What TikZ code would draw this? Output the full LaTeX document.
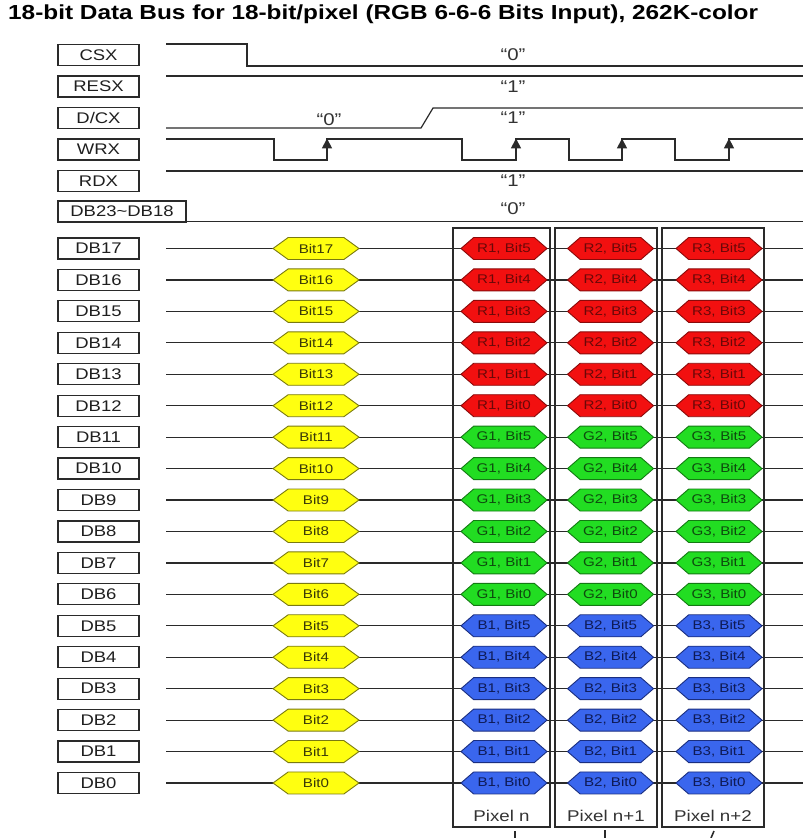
\documentclass[tikz,border=0pt]{standalone}
\usepackage{fontspec}
\usetikzlibrary{shapes.symbols,arrows.meta}
\newfontfamily\af[FakeStretch=1.2]{Liberation Sans}
\newfontfamily\afb[FakeStretch=1.2]{Liberation Sans Bold}
\definecolor{wirec}{HTML}{2A2A2A}
\definecolor{hRf}{HTML}{F21010}\definecolor{hRd}{HTML}{8A0A0A}\definecolor{hRt}{HTML}{6A0808}
\definecolor{hGf}{HTML}{22DD22}\definecolor{hGd}{HTML}{137A13}\definecolor{hGt}{HTML}{0E4A0E}
\definecolor{hBf}{HTML}{3A66EE}\definecolor{hBd}{HTML}{1A2E80}\definecolor{hBt}{HTML}{0E1A55}
\definecolor{hYf}{HTML}{FFFF10}\definecolor{hYd}{HTML}{7A7A10}\definecolor{hYt}{HTML}{3A3A08}
\tikzset{
  wire/.style={draw=wirec,line width=1.2pt},
  lbl/.style={draw=wirec,line width=1.2pt,inner sep=0pt,minimum width=81pt,minimum height=21pt,
    font=\af\fontsize{15.4}{18}\selectfont,text=black!88},
  qlab/.style={inner sep=0pt,font=\af\fontsize{17}{20}\selectfont,text=black!80},
  hexbase/.style={signal,signal to=east and west,inner sep=0pt,minimum width=86pt,minimum height=22pt,
    line width=0.9pt,font=\af\fontsize{12.6}{14}\selectfont},
  hexR/.style={hexbase,signal pointer angle=82,fill=hRf,draw=hRd,text=hRt},
  hexG/.style={hexbase,signal pointer angle=82,fill=hGf,draw=hGd,text=hGt},
  hexB/.style={hexbase,signal pointer angle=82,fill=hBf,draw=hBd,text=hBt},
  hexY/.style={hexbase,signal pointer angle=72,fill=hYf,draw=hYd,text=hYt},
  pixbox/.style={draw=wirec,line width=1.2pt,inner sep=0pt,minimum height=599pt},
  pixlab/.style={inner sep=0pt,font=\af\fontsize{15.6}{18}\selectfont,text=black!80},
  wtip/.style={-{Triangle[width=10pt,length=10pt]}}
}
\begin{document}
\begin{tikzpicture}[x=1pt,y=-1pt]
\useasboundingbox[fill=white] (0,0) rectangle (803,838);
% title
\node[anchor=base west,inner sep=0pt,font=\afb\fontsize{20.3}{24}\selectfont] (title) at (8,19)
  {18-bit Data Bus for 18-bit/pixel (RGB 6-6-6 Bits Input), 262K-color};
% control labels
\node[lbl] (csx) at (98.5,55) {CSX};
\node[lbl] (resx) at (98.5,86.5) {RESX};
\node[lbl] (dcx) at (98.5,118) {D/CX};
\node[lbl] (wrx) at (98.5,149.5) {WRX};
\node[lbl] (rdx) at (98.5,181) {RDX};
\node[lbl,minimum width=128pt] (db2318) at (122,211.5) {DB23\textasciitilde DB18};
% CSX waveform
\draw[wire] (166,44) -- (247,44) -- (247,66) -- (803,66);
\node[qlab] (q1) at (513,55) {“0”};
% RESX
\draw[wire] (166,76) -- (803,76);
\node[qlab] (q2) at (513,86.5) {“1”};
% D/CX
\draw[wire] (166,128) -- (421,128) -- (433,108) -- (803,108);
\node[qlab] (q3) at (329,120) {“0”};
\node[qlab] (q4) at (513,118) {“1”};
% WRX
\draw[wire] (166,139) -- (274,139) -- (274,160) -- (327,160) -- (327,139)
  -- (462,139) -- (462,160) -- (516,160) -- (516,139)
  -- (569,139) -- (569,160) -- (622,160) -- (622,139)
  -- (675,139) -- (675,160) -- (729,160) -- (729,139) -- (803,139);
\foreach \xx in {327,516,622,729}{
  \draw[wire,wtip] (\xx,152) -- (\xx,138.4);
}
% RDX
\draw[wire] (166,171) -- (803,171);
\node[qlab] (q5) at (513,180.5) {“1”};
% DB23~DB18
\coordinate (dbs) at (186,221.5);
\coordinate (dbe) at (803,221.5);
\draw[wire] (dbs) -- (dbe);
\node[qlab] (q6) at (513,209) {“0”};
% pixel boxes
\node[pixbox,minimum width=97pt] (pxa) at (501.5,527.5) {};
\node[pixbox,minimum width=102pt] (pxb) at (606,527.5) {};
\node[pixbox,minimum width=102pt] (pxc) at (713,527.5) {};
\node[pixlab] (pla) at (501.5,815.5) {Pixel n};
\node[pixlab] (plb) at (606,815.5) {Pixel n+1};
\node[pixlab] (plc) at (713,815.5) {Pixel n+2};
% data rows
\foreach \k in {0,...,17}{
  \pgfmathsetmacro\yy{248.5+31.44*(17-\k)}
  \coordinate (ls\k) at (166,\yy);
  \coordinate (le\k) at (803,\yy);
  \draw[wire] (ls\k) -- (le\k);
  \node[lbl] (db\k) at (98.5,\yy) {DB\k};
  \node[hexY] (y\k) at (316,\yy) {Bit\k};
}
\foreach \b in {0,...,5}{
  \pgfmathtruncatemacro\k{\b+12}
  \pgfmathsetmacro\yy{248.5+31.44*(17-\k)}
  \node[hexR] (ra\b) at (504,\yy) {R1, Bit\b};
  \node[hexR] (rb\b) at (610.5,\yy) {R2, Bit\b};
  \node[hexR] (rc\b) at (719,\yy) {R3, Bit\b};
}
\foreach \b in {0,...,5}{
  \pgfmathtruncatemacro\k{\b+6}
  \pgfmathsetmacro\yy{248.5+31.44*(17-\k)}
  \node[hexG] (ga\b) at (504,\yy) {G1, Bit\b};
  \node[hexG] (gb\b) at (610.5,\yy) {G2, Bit\b};
  \node[hexG] (gc\b) at (719,\yy) {G3, Bit\b};
}
\foreach \b in {0,...,5}{
  \pgfmathsetmacro\yy{248.5+31.44*(17-\b)}
  \node[hexB] (ba\b) at (504,\yy) {B1, Bit\b};
  \node[hexB] (bb\b) at (610.5,\yy) {B2, Bit\b};
  \node[hexB] (bc\b) at (719,\yy) {B3, Bit\b};
}
% cut-off stubs below the pixel boxes
\draw[draw=wirec,line width=1.3pt] (515,831) -- (515,838);
\draw[draw=wirec,line width=2.6pt] (605,830) -- (605,838);
\draw[draw=wirec,line width=1.6pt] (714,831) -- (711,838);
\end{tikzpicture}
\end{document}
